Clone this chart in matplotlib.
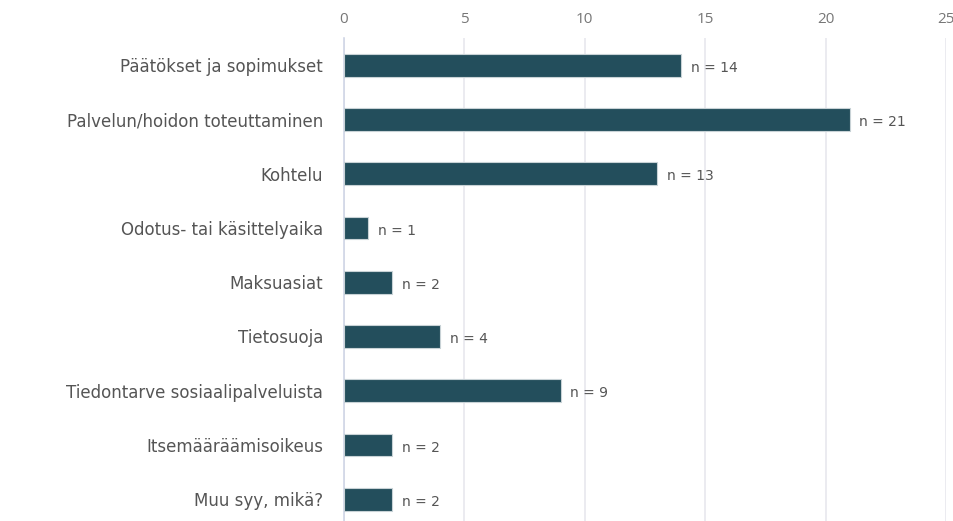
import matplotlib
matplotlib.use("Agg")
import matplotlib.pyplot as plt

# categories and counts, top to bottom
categories = ["Päätökset ja sopimukset", "Palvelun/hoidon toteuttaminen", "Kohtelu",
              "Odotus- tai käsittelyaika", "Maksuasiat", "Tietosuoja",
              "Tiedontarve sosiaalipalveluista", "Itsemääräämisoikeus", "Muu syy, mikä?"]
counts = [14, 21, 13, 1, 2, 4, 9, 2, 2]
xticks = [0, 5, 10, 15, 20, 25]

fig = plt.figure(figsize=(9.54, 5.21), dpi=100)
ax = fig.add_axes([0.3606, 0.0, 0.631, 0.927])

ypos = list(range(len(categories)))
ax.barh(ypos, counts, height=0.42, color="#234e5c", edgecolor="#c8d2d6", linewidth=0.8, zorder=3)

for y, c in zip(ypos, counts):
    ax.text(c + 0.4, y + 0.05, "n = %d" % c, va="center", ha="left",
            fontsize=10, color="#555555", family="DejaVu Sans")

ax.set_xlim(0, 25)
ax.set_ylim(8.4, -0.5)
ax.set_yticks(ypos)
ax.set_yticklabels(categories, fontsize=12, color="#555555", family="DejaVu Sans")
ax.set_xticks(xticks)
ax.set_xticklabels([str(t) for t in xticks], fontsize=11, color="#777777", family="Open Sans")
ax.xaxis.tick_top()
ax.tick_params(axis="x", length=0, pad=8)
ax.tick_params(axis="y", length=0, pad=15)
ax.grid(axis="x", color="#e8e8ee", linewidth=1.2, zorder=0)
for s in ["top", "right", "bottom"]:
    ax.spines[s].set_visible(False)
ax.spines["left"].set_color("#d0d6e6")
ax.spines["left"].set_linewidth(1.2)

fig.savefig("out.png", dpi=100)
